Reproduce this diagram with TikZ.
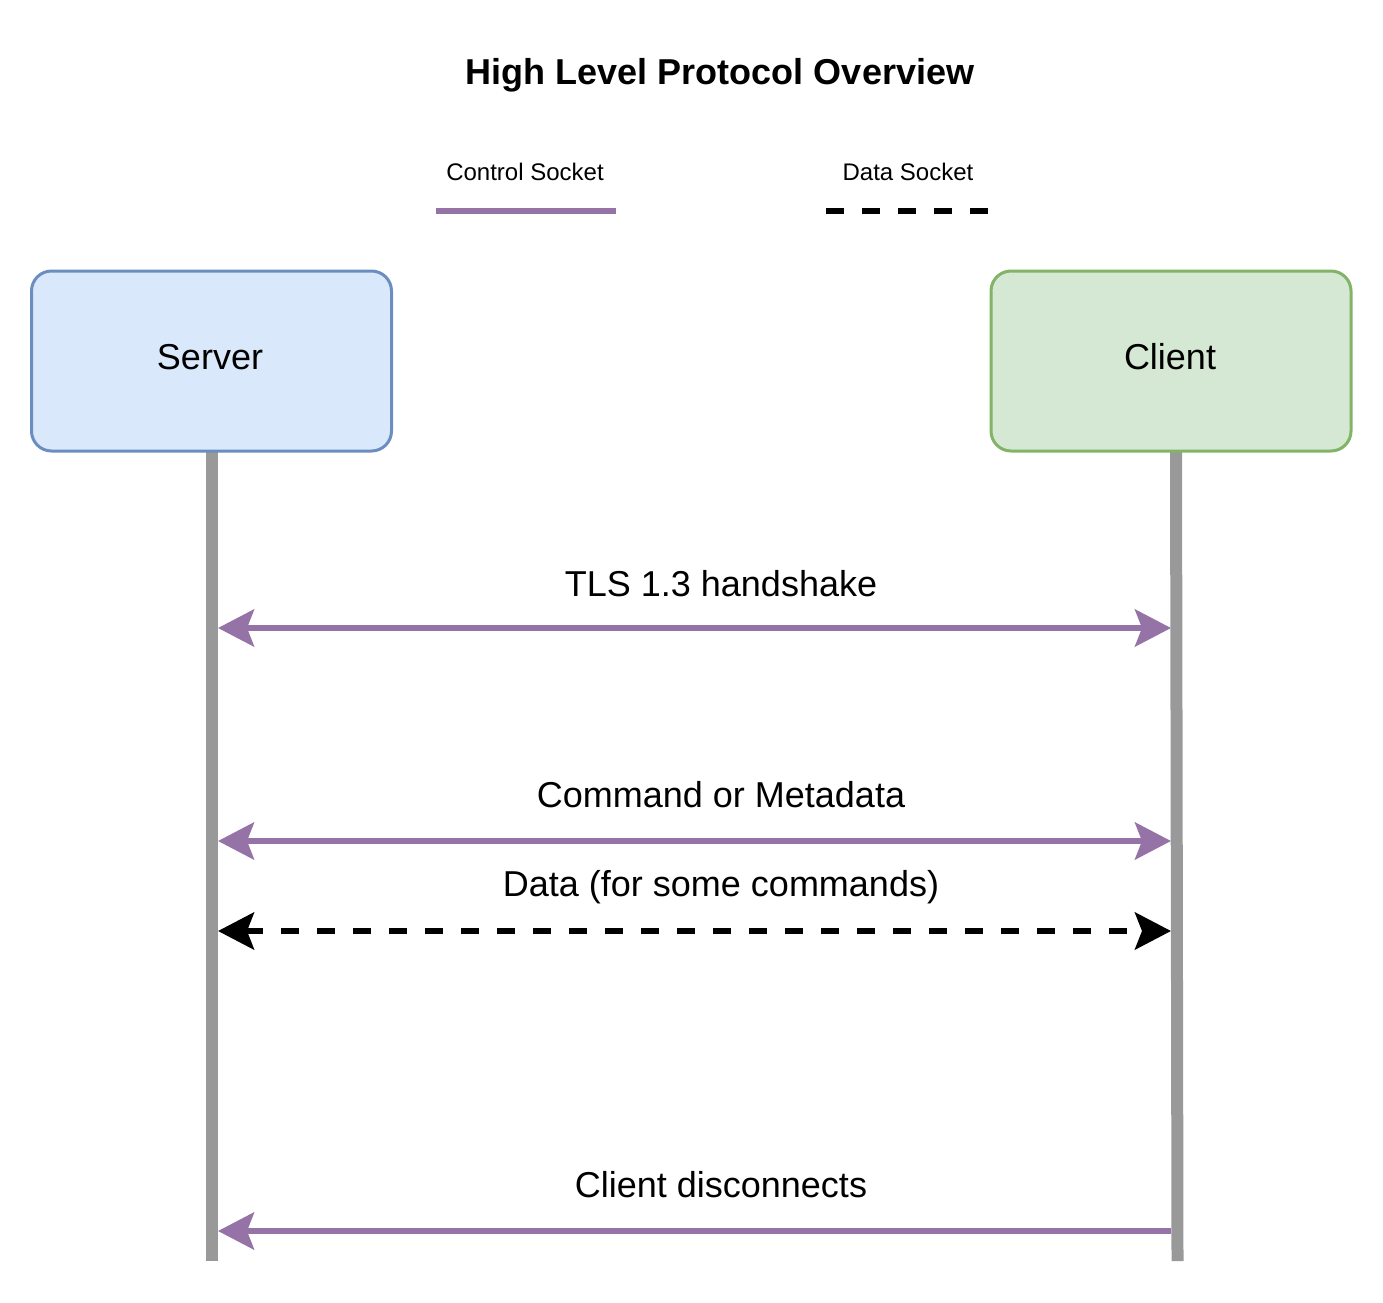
\documentclass[tikz,border=0pt]{standalone}
\usepackage{fontspec}
\setmainfont{Liberation Sans}
\usetikzlibrary{arrows.meta}
\definecolor{ctrl}{HTML}{9673A6}
\definecolor{lifegray}{HTML}{999999}
\definecolor{srvfill}{HTML}{DAE8FC}
\definecolor{srvdraw}{HTML}{6C8EBF}
\definecolor{clifill}{HTML}{D5E8D4}
\definecolor{clidraw}{HTML}{82B366}
\tikzset{
  actor/.style={rounded corners=15pt, line width=2.25pt, minimum width=270pt, minimum height=135pt, inner sep=0pt},
  lifeline/.style={draw=lifegray, line width=9pt},
  tipc/.tip={Stealth[length=27pt, width=27.75pt, inset=5.25pt]},
  ctrlline/.style={draw=ctrl, line width=4.5pt},
  dataline/.style={draw=black, line width=4.5pt, dash pattern=on 13.5pt off 13.5pt},
  msg/.style={font=\fontsize{27pt}{31pt}\selectfont, inner sep=0pt},
  legendtxt/.style={font=\fontsize{18pt}{21pt}\selectfont, inner sep=0pt},
}
\begin{document}
\begin{tikzpicture}[x=0.75pt, y=-0.75pt]
\useasboundingbox (0,0) rectangle (1383,1302);
% title
\node[font=\bfseries\fontsize{27pt}{31pt}\selectfont, inner sep=0pt] (title) at (720,75) {High Level Protocol Overview};
% legend
\node[legendtxt] (lgc) at (525,172) {Control Socket};
\node[legendtxt] (lgd) at (908,172) {Data Socket};
\coordinate (lc1) at (436,211);
\coordinate (lc2) at (616,211);
\coordinate (ld1) at (826,211);
\coordinate (ld2) at (990,211);
\draw[ctrlline] (lc1) -- (lc2);
\draw[dataline] (ld1) -- (ld2);
% lifelines
\coordinate (sTop) at (211.5,451);
\coordinate (sBot) at (211.5,1261);
\coordinate (cTop) at (1176,451);
\coordinate (cBot) at (1177.5,1261);
\draw[lifeline] (sTop) -- (sBot);
\draw[lifeline] (cTop) -- (cBot);
% actors
\node[actor, draw=srvdraw, fill=srvfill] (server) at (211.5,361) {};
\node[actor, draw=clidraw, fill=clifill] (client) at (1171,361) {};
\node[msg] (serverlbl) at (210,357) {Server};
\node[msg] (clientlbl) at (1170,357) {Client};
% message anchors
\coordinate (s1) at (218,628);
\coordinate (c1) at (1171,628);
\coordinate (s2) at (218,841);
\coordinate (c2) at (1171,841);
\coordinate (s3) at (218,931);
\coordinate (c3) at (1171,931);
\coordinate (s4) at (218,1231);
\coordinate (c4) at (1171,1231);
% messages
\draw[ctrlline, {tipc}-{tipc}] (s1) -- (c1);
\node[msg] (m1) at (721,584) {TLS 1.3 handshake};
\draw[ctrlline, {tipc}-{tipc}] (s2) -- (c2);
\node[msg] (m2) at (721,795) {Command or Metadata};
\draw[dataline, {tipc[fill=black]}-{tipc[fill=black]}] (s3) -- (c3);
\node[msg] (m3) at (721,887) {Data (for some commands)};
\draw[ctrlline, {tipc}-] (s4) -- (c4);
\node[msg] (m4) at (721,1185) {Client disconnects};
\end{tikzpicture}
\end{document}
